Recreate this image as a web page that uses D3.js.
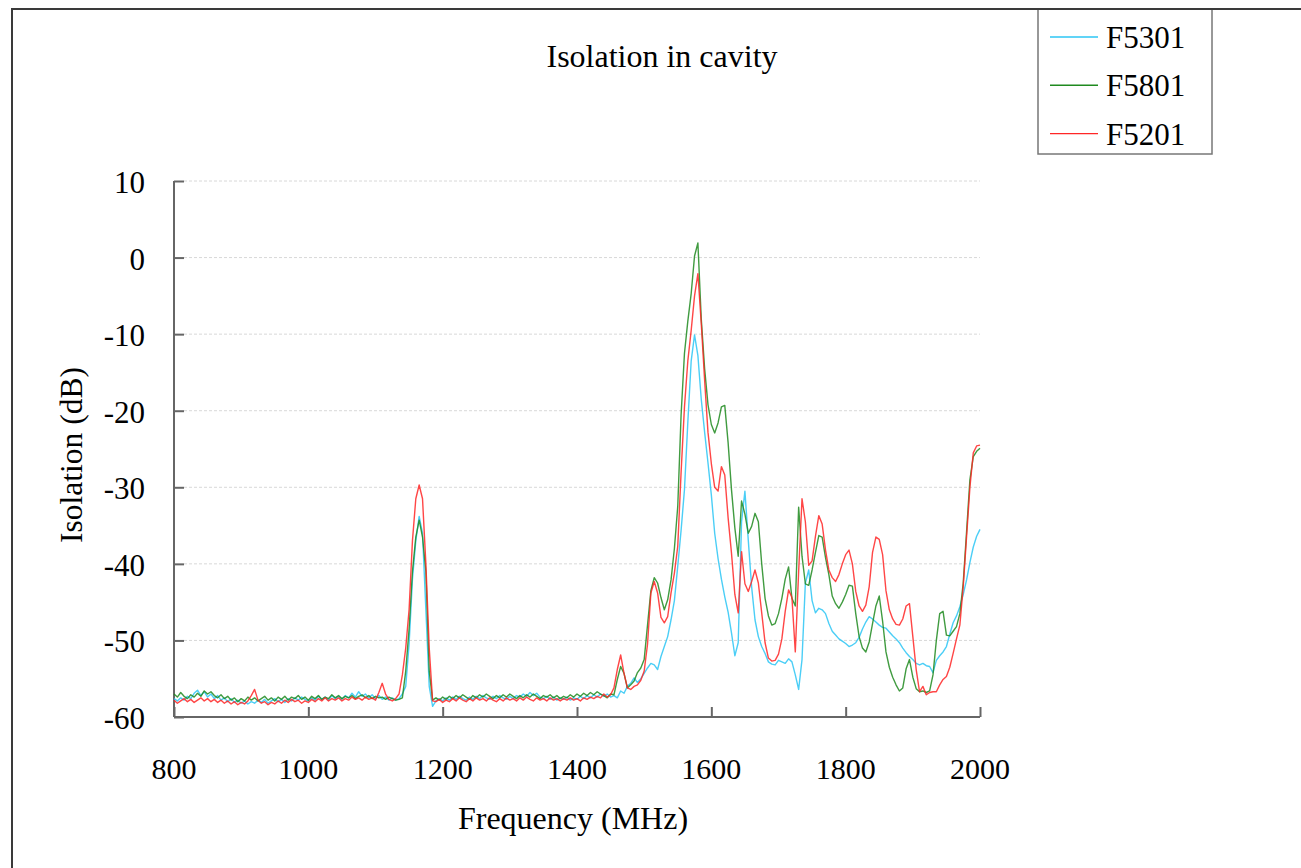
<!DOCTYPE html>
<html>
<head>
<meta charset="utf-8">
<script src="https://cdn.jsdelivr.net/npm/d3@7"></script>
<style>
    body { margin: 0; background: #fff; }
    text { font-family: "Liberation Serif", "Times New Roman", serif; fill: #000; }
</style>
</head>
<body>
<div id="chart"></div>
<script>
// frequency grid, 5 MHz steps
var freq = d3.range(800, 2001, 5);

var yTicks = [10, 0, -10, -20, -30, -40, -50, -60];
var xTicks = [800, 1000, 1200, 1400, 1600, 1800, 2000];

var seriesNames = ["F5301", "F5801", "F5201"];

var f5301 = [
    -57.6,-57.9,-57.5,-57.8,-57.3,-57.6,-56.9,-56.5,-57.2,-56.7,-57.4,-57.0,-57.6,-57.2,-57.8,-57.5,-58.0,-57.6,-58.1,-57.8,
    -58.2,-57.9,-58.3,-58.0,-58.2,-57.8,-58.1,-57.7,-58.2,-57.9,-57.6,-58.0,-57.7,-58.1,-57.6,-57.9,-57.5,-57.8,-57.4,-57.7,
    -57.9,-57.5,-57.8,-57.3,-57.7,-57.4,-57.8,-57.2,-57.6,-57.3,-57.7,-57.2,-57.5,-56.9,-57.4,-56.7,-57.3,-57.0,-57.5,-57.1,
    -57.6,-57.2,-57.7,-57.4,-57.8,-57.5,-57.8,-57.6,-57.0,-56.0,-50.5,-42.0,-37.0,-33.8,-36.0,-46.0,-56.0,-58.6,-57.9,-57.6,
    -57.9,-57.5,-57.8,-57.4,-57.7,-57.3,-57.6,-57.8,-57.4,-57.7,-57.3,-57.6,-57.2,-57.5,-57.7,-57.3,-57.6,-57.2,-57.5,-57.7,
    -57.3,-57.6,-57.2,-57.4,-57.0,-57.3,-56.8,-57.2,-56.9,-57.4,-57.6,-57.3,-57.7,-57.4,-57.8,-57.5,-57.7,-57.4,-57.8,-57.5,
    -57.7,-57.3,-57.6,-57.2,-57.5,-57.1,-57.4,-57.0,-57.3,-57.0,-57.4,-57.2,-57.5,-56.6,-56.9,-56.0,-55.6,-54.9,-55.5,-55.0,
    -54.3,-53.6,-53.0,-53.2,-53.8,-52.1,-50.8,-49.5,-47.3,-44.8,-40.3,-35.6,-30.3,-21.5,-13.5,-10.1,-12.8,-18.5,-22.8,-26.8,
    -31.0,-36.0,-39.3,-42.0,-44.3,-46.3,-49.0,-52.0,-50.3,-34.5,-30.5,-36.9,-43.0,-47.3,-49.5,-50.8,-51.7,-52.8,-53.1,-53.2,
    -52.6,-52.8,-53.0,-52.4,-52.8,-54.5,-56.4,-52.5,-42.5,-40.8,-44.8,-46.4,-45.8,-46.0,-46.5,-47.8,-48.8,-49.3,-49.8,-50.1,
    -50.4,-50.8,-50.6,-50.3,-49.6,-48.5,-47.6,-46.9,-47.2,-47.6,-48.0,-48.3,-48.4,-48.9,-49.4,-49.8,-50.3,-51.0,-51.6,-52.1,
    -52.5,-53.0,-53.2,-53.0,-53.3,-53.4,-54.2,-52.6,-52.0,-51.5,-50.8,-49.2,-47.7,-46.8,-45.6,-44.0,-42.1,-39.8,-37.8,-36.4,
    -35.5
];

var f5801 = [
    -57.0,-57.4,-56.8,-57.3,-57.6,-57.1,-57.4,-56.9,-57.3,-56.6,-57.0,-56.7,-57.2,-57.5,-57.1,-57.6,-57.3,-57.8,-57.5,-58.0,
    -57.6,-57.9,-57.4,-57.8,-57.5,-57.9,-57.6,-57.3,-57.8,-57.5,-57.9,-57.4,-57.7,-57.3,-57.8,-57.4,-57.6,-57.2,-57.7,-57.4,
    -57.8,-57.3,-57.6,-57.2,-57.7,-57.4,-57.6,-57.1,-57.5,-57.2,-57.6,-57.3,-57.5,-57.2,-57.6,-57.3,-57.1,-57.5,-57.2,-57.6,
    -57.3,-57.5,-57.4,-57.7,-57.4,-57.6,-57.8,-57.7,-57.5,-54.0,-48.5,-41.0,-36.5,-34.3,-36.5,-41.0,-54.0,-57.8,-57.5,-57.8,
    -57.4,-57.7,-57.3,-57.6,-57.2,-57.5,-57.1,-57.4,-57.7,-57.2,-57.5,-57.1,-57.4,-57.0,-57.3,-57.6,-57.2,-57.5,-57.1,-57.4,
    -57.0,-57.3,-57.6,-57.2,-57.5,-57.1,-57.4,-57.0,-57.3,-57.6,-57.2,-57.4,-57.1,-57.5,-57.2,-57.6,-57.3,-57.5,-57.1,-57.4,
    -57.0,-57.3,-56.9,-57.2,-56.8,-57.1,-56.7,-57.0,-57.2,-57.5,-57.0,-57.1,-55.1,-53.4,-54.3,-56.2,-55.8,-55.3,-54.2,-53.6,
    -52.5,-48.0,-43.5,-41.8,-42.5,-44.4,-46.0,-44.7,-42.1,-38.0,-32.5,-20.5,-12.5,-8.3,-4.7,0.2,1.9,-8.0,-14.5,-19.2,
    -21.8,-22.9,-21.6,-19.5,-19.3,-24.2,-30.3,-35.3,-39.0,-31.8,-33.5,-36.0,-35.1,-33.4,-34.5,-40.0,-44.5,-46.8,-48.0,-47.8,
    -46.5,-44.5,-42.0,-40.4,-44.5,-45.5,-32.6,-39.0,-42.6,-42.8,-40.8,-38.5,-36.3,-36.5,-39.2,-41.4,-44.2,-45.2,-45.8,-45.0,
    -44.0,-42.8,-42.9,-46.5,-49.5,-51.0,-51.5,-50.2,-47.8,-45.5,-44.2,-47.5,-51.5,-53.5,-54.8,-55.8,-56.6,-56.2,-53.7,-52.5,
    -54.8,-56.3,-56.7,-56.6,-56.8,-56.6,-54.5,-50.0,-46.5,-46.2,-49.3,-49.4,-48.8,-48.2,-46.5,-42.5,-35.8,-29.0,-26.0,-25.3,
    -24.9
];

var f5201 = [
    -57.8,-58.2,-57.9,-57.6,-58.0,-57.7,-58.1,-57.8,-57.5,-57.9,-57.6,-58.0,-57.7,-58.1,-57.8,-58.2,-57.9,-58.3,-58.0,-58.4,
    -58.1,-58.3,-57.9,-57.2,-56.4,-57.8,-58.2,-58.0,-58.4,-58.1,-58.3,-57.9,-58.2,-57.8,-58.1,-57.7,-58.0,-57.8,-58.2,-57.9,
    -58.1,-57.7,-58.0,-57.6,-57.9,-57.5,-57.9,-57.6,-57.8,-57.5,-57.9,-57.6,-57.8,-57.4,-57.7,-57.5,-57.8,-57.4,-57.7,-57.5,
    -57.8,-56.8,-55.6,-57.0,-57.7,-57.9,-57.6,-57.0,-54.5,-51.0,-46.0,-37.0,-31.5,-29.7,-31.5,-40.0,-51.0,-57.9,-58.0,-57.7,
    -58.1,-57.8,-58.0,-57.6,-57.9,-57.5,-57.8,-58.0,-57.6,-57.9,-57.5,-57.8,-57.6,-57.9,-57.5,-57.8,-58.0,-57.6,-57.9,-57.5,
    -57.8,-57.6,-57.9,-57.5,-57.8,-57.4,-57.7,-57.9,-57.5,-57.8,-57.6,-57.9,-57.5,-57.8,-57.6,-57.9,-57.6,-57.8,-57.5,-57.8,
    -57.6,-57.9,-57.5,-57.7,-57.4,-57.6,-57.3,-57.5,-57.0,-57.4,-57.1,-56.2,-53.8,-51.9,-54.3,-56.2,-56.4,-56.0,-55.8,-55.2,
    -54.0,-50.5,-43.8,-42.3,-43.8,-47.0,-47.7,-46.9,-43.8,-41.2,-37.7,-28.0,-19.5,-13.5,-9.5,-5.0,-2.1,-8.6,-16.0,-22.8,
    -26.9,-30.0,-30.5,-27.3,-28.4,-34.0,-38.6,-44.0,-46.4,-38.4,-42.6,-43.6,-42.3,-40.8,-42.5,-46.4,-50.3,-52.3,-52.7,-52.6,
    -51.8,-49.8,-46.2,-43.4,-44.4,-51.5,-41.0,-31.5,-34.5,-40.2,-39.6,-36.4,-33.7,-34.8,-38.2,-40.8,-41.8,-42.3,-41.4,-40.0,
    -38.8,-38.2,-40.0,-43.6,-45.5,-46.2,-45.4,-43.0,-38.5,-36.5,-36.8,-38.8,-43.5,-46.0,-47.2,-47.9,-48.0,-47.2,-45.5,-45.2,
    -49.5,-53.8,-56.7,-56.0,-57.1,-56.8,-56.7,-56.7,-55.8,-55.1,-54.7,-53.5,-51.7,-49.8,-48.0,-43.0,-36.5,-30.0,-25.5,-24.6,
    -24.5
];

var seriesColors = ["#2cc6f4", "#1f8a1f", "#ff2626"];

var width = 1301;
var height = 868;
var plot = {left: 174, right: 980, top: 181, bottom: 717};

var svg = null;

function create(document_id){
    svg = d3.select("#" + document_id)
        .append("svg")
        .attr("width", width)
        .attr("height", height);

    let x = d3.scaleLinear().domain([800, 2000]).range([plot.left, plot.right]);
    let y = d3.scaleLinear().domain([-60, 10]).range([plot.bottom, plot.top]);

    // outer frame
    svg.append("rect")
        .attr("x", 12).attr("y", 9)
        .attr("width", 1400).attr("height", 1000)
        .attr("fill", "none")
        .attr("stroke", "#3a3a3a")
        .attr("stroke-width", 2);

    // grid
    svg.append("g")
        .attr("class", "grid")
        .selectAll("line")
        .data(yTicks.filter(d => d > -60))
        .enter()
        .append("line")
        .attr("x1", plot.left + 10)
        .attr("x2", plot.right)
        .attr("y1", d => y(d))
        .attr("y2", d => y(d))
        .attr("stroke", "#d8d8d8")
        .attr("stroke-width", 1)
        .attr("stroke-dasharray", "3,2");

    // axes, ticks point inside
    let yAxis = d3.axisRight(y).tickValues(yTicks).tickSize(10).tickFormat("");
    let xAxis = d3.axisTop(x).tickValues(xTicks).tickSize(10).tickFormat("");

    svg.append("g")
        .attr("transform", "translate(" + plot.left + ",0)")
        .call(yAxis)
        .call(g => g.select(".domain").attr("d", "M0," + plot.top + "V" + plot.bottom));
    svg.append("g")
        .attr("transform", "translate(0," + plot.bottom + ")")
        .call(xAxis)
        .call(g => g.select(".domain").attr("d", "M" + plot.left + ",0H" + plot.right));

    svg.selectAll(".domain, .tick line")
        .attr("stroke", "#666")
        .attr("stroke-width", 2);

    // tick labels
    svg.append("g")
        .selectAll("text")
        .data(yTicks)
        .enter()
        .append("text")
        .attr("x", 145)
        .attr("y", d => y(d) + 12)
        .attr("text-anchor", "end")
        .style("font-size", "31px")
        .text(d => d);

    svg.append("g")
        .selectAll("text")
        .data(xTicks)
        .enter()
        .append("text")
        .attr("x", d => x(d))
        .attr("y", plot.bottom + 62)
        .attr("text-anchor", "middle")
        .style("font-size", "30px")
        .text(d => d);

    // titles
    svg.append("text")
        .attr("x", 662).attr("y", 67)
        .attr("text-anchor", "middle")
        .style("font-size", "32px")
        .text("Isolation in cavity");

    svg.append("text")
        .attr("x", 573).attr("y", 829)
        .attr("text-anchor", "middle")
        .style("font-size", "32px")
        .text("Frequency (MHz)");

    svg.append("text")
        .attr("transform", "translate(82,455) rotate(-90)")
        .attr("text-anchor", "middle")
        .style("font-size", "31.5px")
        .text("Isolation (dB)");

    // series
    let allSeries = [f5301, f5801, f5201];
    let line = d3.line()
        .x((d, i) => x(freq[i]))
        .y(d => y(d));

    svg.append("g")
        .attr("class", "series")
        .selectAll("path")
        .data(allSeries)
        .enter()
        .append("path")
        .attr("fill", "none")
        .attr("stroke", (d, i) => seriesColors[i])
        .attr("stroke-width", 1.4)
        .attr("stroke-opacity", 0.85)
        .attr("stroke-linejoin", "round")
        .attr("d", line);

    buildLegend();
}

function buildLegend(){
    let legend = svg.append("g").attr("class", "legend");

    legend.append("rect")
        .attr("x", 1038).attr("y", 9)
        .attr("width", 174).attr("height", 145)
        .attr("fill", "#fff")
        .attr("stroke", "#777")
        .attr("stroke-width", 1.5);

    let rows = legend.selectAll(".row")
        .data(seriesNames)
        .enter()
        .append("g")
        .attr("class", "row")
        .attr("transform", (d, i) => "translate(0," + (37 + i * 48.3) + ")");

    rows.append("line")
        .attr("x1", 1050).attr("x2", 1098)
        .attr("y1", 0).attr("y2", 0)
        .attr("stroke", (d, i) => seriesColors[i])
        .attr("stroke-width", 1.4);

    rows.append("text")
        .attr("x", 1106)
        .attr("y", 11)
        .style("font-size", "31px")
        .text(d => d);

    // redraw top frame edge over the legend box
    svg.append("line")
        .attr("x1", 12).attr("x2", width)
        .attr("y1", 9).attr("y2", 9)
        .attr("stroke", "#3a3a3a")
        .attr("stroke-width", 2);
}

create("chart");
</script>
</body>
</html>
